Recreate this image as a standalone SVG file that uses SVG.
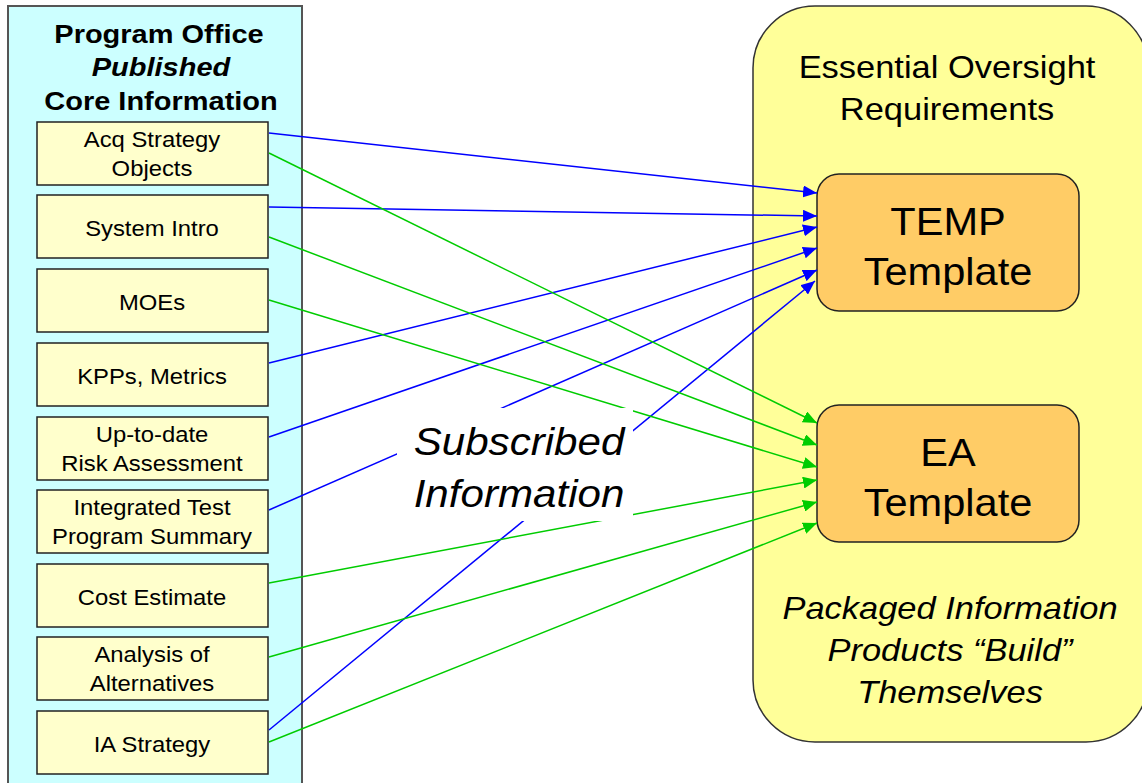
<svg xmlns="http://www.w3.org/2000/svg" width="1142" height="783" viewBox="0 0 1142 783">
<defs>
<marker id="ab" markerUnits="userSpaceOnUse" markerWidth="15" markerHeight="12" refX="14" refY="6" orient="auto"><path d="M0,0 L14,6 L0,12 z" fill="#0000FF"/></marker>
<marker id="ag" markerUnits="userSpaceOnUse" markerWidth="15" markerHeight="12" refX="14" refY="6" orient="auto"><path d="M0,0 L14,6 L0,12 z" fill="#00CC00"/></marker>
<style>
.t{font-family:"Liberation Sans",Arial,sans-serif;fill:#000;text-anchor:middle}
.ttl{font-size:26.5px;font-weight:bold}
.it{font-size:21.8px}
.big{font-size:31.5px}
.tp{font-size:38px}
.sub{font-size:38.5px;font-style:italic}
.itl{font-style:italic}
.box{fill:#FFFFCC;stroke:#222;stroke-width:1.5}
.shd{fill:#888}
.tpl{fill:#FFCC66;stroke:#222;stroke-width:1.5}
.b{stroke:#0000FF;stroke-width:1.5;fill:none;marker-end:url(#ab)}
.g{stroke:#00CC00;stroke-width:1.5;fill:none;marker-end:url(#ag)}
</style>
</defs>
<rect width="1142" height="783" fill="#FFFFFF"/>
<g id="program-office">
<rect x="8" y="6" width="294" height="790" fill="#CCFFFF" stroke="#555" stroke-width="2"/>
<text class="t ttl" transform="translate(159 43) scale(1.094 1)">Program Office</text>
<text class="t ttl" font-style="italic" transform="translate(161 76) scale(1.094 1)">Published</text>
<text class="t ttl" transform="translate(161 110) scale(1.094 1)">Core Information</text>
</g>
<g id="oversight">
<rect x="753" y="6" width="395" height="736" rx="62" ry="62" fill="#FFFF99" stroke="#333" stroke-width="1.5"/>
<text class="t big" transform="translate(947 78) scale(1.094 1)">Essential Oversight</text>
<text class="t big" transform="translate(947 120) scale(1.094 1)">Requirements</text>
<text class="t big itl" transform="translate(950 619) scale(1.094 1)">Packaged Information</text>
<text class="t big itl" transform="translate(950 661) scale(1.094 1)">Products “Build”</text>
<text class="t big itl" transform="translate(950 703) scale(1.094 1)">Themselves</text>
</g>
<g id="item-acq"><rect class="box" x="37" y="122" width="231" height="63"/><text class="t it" transform="translate(152 147) scale(1.094 1)">Acq Strategy</text><text class="t it" transform="translate(152 176) scale(1.094 1)">Objects</text></g>
<g id="item-sysintro"><rect class="box" x="37" y="195" width="231" height="63"/><text class="t it" transform="translate(152 235.5) scale(1.094 1)">System Intro</text></g>
<g id="item-moes"><rect class="box" x="37" y="269" width="231" height="63"/><text class="t it" transform="translate(152 309.5) scale(1.094 1)">MOEs</text></g>
<g id="item-kpps"><rect class="box" x="37" y="343" width="231" height="63"/><text class="t it" transform="translate(152 383.5) scale(1.094 1)">KPPs, Metrics</text></g>
<g id="item-risk"><rect class="box" x="37" y="417" width="231" height="63"/><text class="t it" transform="translate(152 442) scale(1.094 1)">Up-to-date</text><text class="t it" transform="translate(152 471) scale(1.094 1)">Risk Assessment</text></g>
<g id="item-itps"><rect class="box" x="37" y="490" width="231" height="63"/><text class="t it" transform="translate(152 515) scale(1.094 1)">Integrated Test</text><text class="t it" transform="translate(152 544) scale(1.094 1)">Program Summary</text></g>
<g id="item-cost"><rect class="box" x="37" y="564" width="231" height="63"/><text class="t it" transform="translate(152 604.5) scale(1.094 1)">Cost Estimate</text></g>
<g id="item-aoa"><rect class="box" x="37" y="637" width="231" height="63"/><text class="t it" transform="translate(152 662) scale(1.094 1)">Analysis of</text><text class="t it" transform="translate(152 691) scale(1.094 1)">Alternatives</text></g>
<g id="item-ia"><rect class="box" x="37" y="711" width="231" height="63"/><text class="t it" transform="translate(152 751.5) scale(1.094 1)">IA Strategy</text></g>
<g id="temp-template"><rect class="tpl" x="817" y="174" width="262" height="137" rx="22" ry="22"/><text class="t tp" transform="translate(948 235) scale(1.094 1)">TEMP</text><text class="t tp" transform="translate(948 285) scale(1.094 1)">Template</text></g>
<g id="ea-template"><rect class="tpl" x="817" y="405" width="262" height="137" rx="22" ry="22"/><text class="t tp" transform="translate(948 466) scale(1.094 1)">EA</text><text class="t tp" transform="translate(948 516) scale(1.094 1)">Template</text></g>
<g id="connectors">
<line class="b" x1="269" y1="133" x2="817" y2="193"/>
<line class="b" x1="269" y1="207" x2="817" y2="216"/>
<line class="b" x1="269" y1="363" x2="817" y2="227"/>
<line class="b" x1="269" y1="437" x2="817" y2="248"/>
<line class="b" x1="269" y1="510" x2="817" y2="270"/>
<line class="b" x1="269" y1="730" x2="815" y2="281"/>
<line class="g" x1="269" y1="153" x2="817" y2="423"/>
<line class="g" x1="269" y1="237" x2="817" y2="445"/>
<line class="g" x1="269" y1="300" x2="817" y2="467"/>
<line class="g" x1="269" y1="583" x2="817" y2="480"/>
<line class="g" x1="269" y1="657" x2="817" y2="502"/>
<line class="g" x1="269" y1="742" x2="817" y2="523"/>
</g>
<g id="subscribed-label">
<rect x="397" y="408" width="236" height="113" fill="#FFFFFF"/>
<text class="t sub" transform="translate(519 455) scale(1.094 1)">Subscribed</text>
<text class="t sub" transform="translate(519 507) scale(1.094 1)">Information</text>
</g>
</svg>
